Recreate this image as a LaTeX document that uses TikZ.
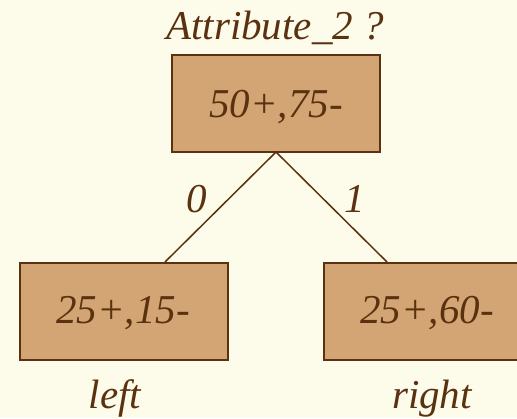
\documentclass[tikz,border=0pt]{standalone}
\usepackage{fontspec}
\setmainfont{Liberation Serif}
\definecolor{bg}{HTML}{FDFBEA}
\definecolor{boxfill}{HTML}{D4A574}
\definecolor{ink}{HTML}{5A3210}
\begin{document}
\begin{tikzpicture}[x=1pt,y=-1pt,
  every node/.style={text=ink,font=\fontsize{41}{48}\selectfont\itshape,inner sep=0pt},
  box/.style={draw=ink,line width=2pt,fill=boxfill,minimum width=208pt,minimum height=97pt},
  txt/.style={anchor=base},
  edge/.style={draw=ink,line width=1.5pt}]
\fill[bg] (0,0) rectangle (517,418);
\useasboundingbox (0,0) rectangle (517,418);
\begin{scope}
\clip (0,0) rectangle (517,418);
\node[box] (root) at (276,103.5) {};
\node[box] (L) at (123.5,311.5) {};
\node[box] (R) at (427.5,311.5) {};
\end{scope}
\node[txt] (q) at (275,39) {Attribute\_2 ?};
\node[txt] (rt) at (276,117) {50+,75-};
\node[txt] (lt) at (123,323) {25+,15-};
\node[txt] (rtt) at (427,323) {25+,60-};
\coordinate (rb) at (276,152);
\coordinate (lt0) at (165,262);
\coordinate (rt0) at (387,262);
\draw[edge] (lt0) -- (rb) -- (rt0);
\node[txt] (zero) at (197,212) {0};
\node[txt] (one) at (355,212) {1};
\node[txt] (lname) at (115,408) {left};
\node[txt] (rname) at (432,408) {right};
\end{tikzpicture}
\end{document}
